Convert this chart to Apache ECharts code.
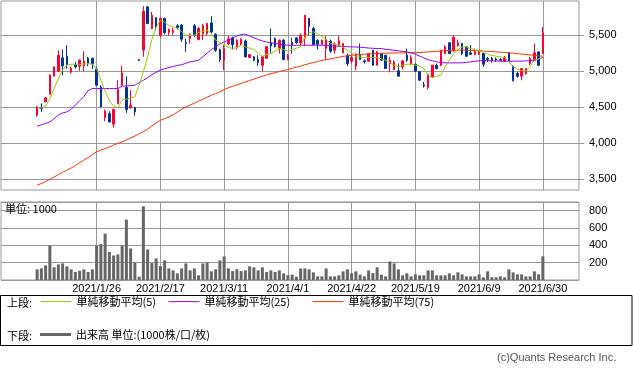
<!DOCTYPE html>
<html>
<head>
<meta charset="utf-8">
<script src="https://cdn.jsdelivr.net/npm/echarts@6.0.0/dist/echarts.min.js"></script>
<style>
html,body{margin:0;padding:0;background:#fff;}
#chart{width:633px;height:371px;}
</style>
</head>
<body>
<div id="chart"></div>
<script>
const dates = [
'2021/1/5','2021/1/6','2021/1/7','2021/1/8','2021/1/12','2021/1/13','2021/1/14','2021/1/15','2021/1/18','2021/1/19',
'2021/1/20','2021/1/21','2021/1/22','2021/1/25','2021/1/26','2021/1/27','2021/1/28','2021/1/29','2021/2/1','2021/2/2',
'2021/2/3','2021/2/4','2021/2/5','2021/2/8','2021/2/9','2021/2/10','2021/2/12','2021/2/15','2021/2/16','2021/2/17',
'2021/2/18','2021/2/19','2021/2/22','2021/2/24','2021/2/25','2021/2/26','2021/3/1','2021/3/2','2021/3/3','2021/3/4',
'2021/3/5','2021/3/8','2021/3/9','2021/3/10','2021/3/11','2021/3/12','2021/3/15','2021/3/16','2021/3/17','2021/3/18',
'2021/3/19','2021/3/22','2021/3/23','2021/3/24','2021/3/25','2021/3/26','2021/3/29','2021/3/30','2021/3/31','2021/4/1',
'2021/4/2','2021/4/5','2021/4/6','2021/4/7','2021/4/8','2021/4/9','2021/4/12','2021/4/13','2021/4/14','2021/4/15',
'2021/4/16','2021/4/19','2021/4/20','2021/4/21','2021/4/22','2021/4/23','2021/4/26','2021/4/27','2021/4/28','2021/4/30',
'2021/5/6','2021/5/7','2021/5/10','2021/5/11','2021/5/12','2021/5/13','2021/5/14','2021/5/17','2021/5/18','2021/5/19',
'2021/5/20','2021/5/21','2021/5/24','2021/5/25','2021/5/26','2021/5/27','2021/5/28','2021/5/31','2021/6/1','2021/6/2',
'2021/6/3','2021/6/4','2021/6/7','2021/6/8','2021/6/9','2021/6/10','2021/6/11','2021/6/14','2021/6/15','2021/6/16',
'2021/6/17','2021/6/18','2021/6/21','2021/6/22','2021/6/23','2021/6/24','2021/6/25','2021/6/28','2021/6/29','2021/6/30'
];
const tickLabels = ['2021/1/26','2021/2/17','2021/3/11','2021/4/1','2021/4/22','2021/5/19','2021/6/9','2021/6/30'];
const priceTicks = [3500,4000,4500,5000,5500];
const volumeTicks = [200,400,600,800];

const opens = [
4389,4495,4574,4680,4931,5000,5185,5208,4986,5093,
5069,5074,5181,5181,5028,4782,4352,4412,4264,4551,
4806,4773,4491,4495,5160,5292,5894,5593,5745,5500,
5732,5537,5537,5630,5639,5398,5454,5630,5440,5523,
5523,5671,5514,5301,5153,5380,5463,5330,5380,5420,
5190,5199,5160,5083,5180,5394,5450,5315,5431,5162,
5398,5463,5394,5460,5732,5593,5431,5375,5315,5417,
5292,5361,5255,5222,5139,5069,5222,5144,5139,5292,
5083,5245,5222,5106,5023,5005,5060,5222,5106,5097,
4991,4810,4773,4921,5083,5083,5245,5394,5292,5361,
5384,5338,5255,5236,5240,5245,5176,5180,5170,5160,
5144,5255,5069,4968,4931,4968,5106,5153,5268,5245
];
const closes = [
4505,4480,4630,4944,5060,5222,5074,5093,5042,5060,
5153,5139,5106,5102,4806,4505,4444,4296,4472,4745,
4977,4467,4528,4435,5150,5833,5662,5778,5616,5732,
5537,5579,5569,5606,5444,5384,5509,5500,5593,5639,
5662,5546,5292,5162,5315,5450,5370,5431,5440,5199,
5231,5153,5120,5199,5340,5350,5340,5431,5162,5222,
5370,5398,5500,5778,5625,5370,5375,5431,5440,5278,
5375,5421,5384,5106,5190,5236,5162,5130,5245,5083,
5268,5153,5037,5153,5130,4931,5143,5153,5190,5000,
4875,4795,4958,5083,5037,5292,5338,5245,5468,5394,
5245,5208,5236,5268,5262,5097,5162,5150,5155,5150,
5190,5144,4866,4931,5037,5037,5176,5255,5083,5532
];
const lows = [
4366,4435,4570,4675,4925,4995,4944,5037,4968,5037,
5005,5000,5069,5032,4792,4500,4305,4287,4218,4542,
4792,4421,4481,4380,5148,5199,5653,5583,5569,5468,
5509,5500,5509,5579,5407,5268,5384,5477,5431,5431,
5500,5523,5268,5130,5014,5360,5300,5300,5360,5190,
5180,5140,5074,5000,5170,5250,5330,5245,5150,5150,
5245,5380,5361,5361,5500,5360,5301,5370,5162,5255,
5245,5338,5250,5074,5106,5014,5155,5106,5130,5074,
5080,5140,5028,4986,5014,4925,5023,5130,5083,4991,
4866,4773,4745,4915,5023,5069,5240,5236,5268,5338,
5222,5199,5222,5222,5225,5060,5130,5120,5130,5135,
5130,5140,4860,4910,4875,4950,5083,5140,5070,5236
];
const highs = [
4514,4551,4643,4958,5069,5292,5301,5361,5060,5130,
5162,5278,5199,5185,5060,4806,4467,4444,4475,4875,
5074,4930,4736,4505,5162,5903,5903,5824,5748,5745,
5745,5593,5606,5653,5653,5454,5523,5653,5616,5653,
5671,5764,5523,5315,5361,5490,5480,5445,5460,5440,
5240,5210,5222,5210,5350,5593,5470,5440,5445,5240,
5463,5470,5523,5780,5735,5616,5440,5440,5486,5440,
5400,5486,5390,5245,5222,5245,5384,5162,5250,5295,
5280,5250,5225,5199,5153,5106,5153,5315,5222,5106,
5005,4852,4960,5090,5106,5295,5361,5407,5500,5440,
5394,5347,5361,5315,5290,5255,5199,5200,5190,5185,
5210,5265,5083,4991,5040,5040,5199,5384,5275,5616
];
const volumes = [
123,134,168,398,146,180,191,157,123,92,
107,123,92,123,398,414,536,322,283,295,
398,697,364,203,38,850,352,195,249,161,
226,134,111,77,134,191,111,134,54,191,
203,100,123,226,272,134,103,123,103,111,
157,146,111,146,92,111,92,111,77,54,
61,38,134,134,123,88,42,42,134,42,
42,54,100,123,77,100,61,42,111,80,
146,61,42,214,191,123,54,77,42,65,
54,54,111,111,54,54,54,77,54,88,
65,42,42,42,65,31,100,31,31,42,
31,123,88,65,65,42,42,100,65,272
];
const ma5 = [
4481,4490,4514,4620,4759,4900,5020,5083,5097,5097,
5095,5100,5102,5100,5037,4875,4720,4590,4514,4495,
4597,4610,4630,4643,4806,4991,5200,5440,5610,5708,
5680,5630,5610,5593,5550,5500,5495,5500,5537,5555,
5569,5523,5431,5400,5361,5330,5315,5330,5361,5338,
5320,5301,5245,5208,5230,5245,5280,5315,5300,5282,
5301,5320,5338,5477,5537,5546,5523,5480,5440,5384,
5375,5361,5330,5292,5255,5199,5195,5190,5190,5190,
5190,5170,5153,5120,5083,5060,5083,5097,5095,5083,
5074,5037,4944,4912,4930,4944,5060,5153,5245,5300,
5338,5338,5315,5300,5282,5260,5236,5220,5208,5200,
5190,5130,5060,5030,5005,5005,5060,5153,5170,5190
];
const ma25 = [
4236,4255,4275,4296,4340,4390,4420,4435,4470,4530,
4590,4650,4730,4760,4760,4759,4759,4759,4759,4759,
4792,4795,4800,4806,4840,4875,4910,4950,4985,5014,
5035,5050,5065,5080,5090,5110,5130,5140,5153,5200,
5250,5301,5340,5380,5407,5430,5460,5490,5509,5514,
5490,5465,5440,5420,5405,5394,5385,5375,5368,5361,
5360,5360,5360,5361,5361,5361,5361,5360,5355,5352,
5350,5347,5344,5340,5338,5336,5333,5328,5322,5318,
5315,5315,5305,5298,5290,5283,5275,5268,5255,5235,
5210,5185,5160,5145,5130,5120,5116,5115,5116,5116,
5116,5122,5130,5138,5144,5145,5145,5144,5142,5140,
5139,5139,5139,5140,5141,5143,5144,5150,5170,5190
];
const ma75 = [
3417,3440,3465,3500,3530,3565,3595,3625,3655,3690,
3730,3765,3800,3840,3880,3905,3925,3950,3975,3996,
4020,4045,4075,4100,4130,4160,4195,4240,4280,4319,
4340,4365,4395,4430,4470,4505,4530,4555,4585,4611,
4640,4665,4690,4713,4745,4770,4790,4810,4830,4850,
4870,4890,4910,4930,4950,4965,4980,4995,5010,5023,
5040,5055,5070,5090,5105,5120,5135,5150,5160,5170,
5182,5194,5205,5214,5222,5228,5232,5236,5240,5243,
5246,5248,5250,5252,5253,5254,5255,5256,5257,5258,
5260,5264,5268,5272,5276,5280,5284,5288,5291,5292,
5293,5292,5290,5287,5283,5280,5276,5272,5268,5264,
5260,5255,5250,5244,5238,5232,5226,5220,5214,5208
];

const PAD = 8;
const padL = Array.from({length: PAD}, (_, i) => 'padL' + i);
const padR = Array.from({length: PAD}, (_, i) => 'padR' + i);
const cats = padL.concat(dates, padR);
const blanks = Array(PAD).fill('-');
const padSeries = arr => blanks.concat(arr, blanks);
const candleData = blanks.map(() => ['-','-','-','-'])
  .concat(dates.map((d, i) => [opens[i], closes[i], lows[i], highs[i]]))
  .concat(blanks.map(() => ['-','-','-','-']));

const GRID = '#999999';
const C5 = '#99cc00', C25 = '#9900ff', C75 = '#ff3300', CVOL = '#666666';
const latin = 'Liberation Sans';
const cjk = 'Noto Sans CJK JP';
const vLines = tickLabels.map(d => ({ xAxis: d }));
const legendText = { fontSize: 11, fontFamily: cjk, color: '#000' };
const lineLegend = (name, color) => ({ name,
  itemStyle: { opacity: 0 }, lineStyle: { color, width: 1, opacity: 1 } });

const chart = echarts.init(document.getElementById('chart'), null, { renderer: 'canvas' });
chart.setOption({
  animation: false,
  backgroundColor: '#ffffff',
  grid: [
    { left: 1, top: 1, width: 578, height: 189, show: true, borderColor: GRID, borderWidth: 1, backgroundColor: '#fff' },
    { left: 1, top: 202, width: 578, height: 78, show: true, borderColor: GRID, borderWidth: 1, backgroundColor: '#fff' }
  ],
  xAxis: [
    { type: 'category', gridIndex: 0, data: cats, boundaryGap: true,
      axisLine: { show: false }, axisTick: { show: false }, axisLabel: { show: false }, splitLine: { show: false } },
    { type: 'category', gridIndex: 1, data: cats, boundaryGap: true,
      axisLine: { show: false }, axisTick: { show: false }, splitLine: { show: false },
      axisLabel: { interval: (idx, val) => tickLabels.indexOf(val) >= 0, margin: 3,
        fontSize: 11, fontFamily: latin, color: '#000' } }
  ],
  yAxis: [
    { type: 'value', gridIndex: 0, position: 'right', min: 3350, max: 5975, splitNumber: 5,
      axisLine: { show: false },
      axisTick: { show: true, length: 5, lineStyle: { color: GRID }, customValues: priceTicks },
      axisLabel: { customValues: priceTicks, margin: 10, fontSize: 11, fontFamily: latin, color: '#000',
        formatter: v => v.toLocaleString('en-US') },
      splitLine: { show: true, lineStyle: { color: GRID, width: 1 } } },
    { type: 'value', gridIndex: 1, position: 'right', min: 0, max: 900, interval: 200,
      axisLine: { show: false }, axisTick: { show: false },
      axisLabel: { customValues: volumeTicks, margin: 10, fontSize: 11, fontFamily: latin, color: '#000' },
      splitLine: { show: true, lineStyle: { color: GRID, width: 1 } } }
  ],
  legend: [
    { data: [lineLegend('単純移動平均(5)', C5)], left: 40, top: 296, padding: 0, itemWidth: 31, itemHeight: 14, selectedMode: false, textStyle: legendText },
    { data: [lineLegend('単純移動平均(25)', C25)], left: 168, top: 296, padding: 0, itemWidth: 31, itemHeight: 14, selectedMode: false, textStyle: legendText },
    { data: [lineLegend('単純移動平均(75)', C75)], left: 312, top: 296, padding: 0, itemWidth: 31, itemHeight: 14, selectedMode: false, textStyle: legendText },
    { data: [{ name: '出来高 単位:(1000株/口/枚)', icon: 'rect', itemStyle: { color: CVOL } }], left: 40, top: 329, padding: 0, itemWidth: 31, itemHeight: 3, selectedMode: false, textStyle: legendText }
  ],
  graphic: [
    { type: 'rect', silent: true, shape: { x: 0.5, y: 295.5, width: 631.5, height: 50 },
      style: { fill: 'none', stroke: '#000', lineWidth: 1 } },
    { type: 'text', silent: true, x: 7, y: 303, style: { text: '上段:', font: '11px "Noto Sans CJK JP"', fill: '#000', verticalAlign: 'middle' } },
    { type: 'text', silent: true, x: 7, y: 336, style: { text: '下段:', font: '11px "Noto Sans CJK JP"', fill: '#000', verticalAlign: 'middle' } },
    { type: 'text', silent: true, x: 5, y: 209, z: 10, style: { text: '単位: 1000', font: '11px "Noto Sans CJK JP"', fill: '#000', verticalAlign: 'middle' } },
    { type: 'text', silent: true, x: 497, y: 358, style: { text: '(c)Quants Research Inc.', font: '11px "Liberation Sans"', fill: '#555', verticalAlign: 'middle' } }
  ],
  series: [
    { type: 'line', xAxisIndex: 0, yAxisIndex: 0, data: [], silent: true,
      markLine: { symbol: 'none', silent: true, z: 1, animation: false, label: { show: false },
        lineStyle: { color: GRID, width: 1, type: 'solid' }, emphasis: { disabled: true }, data: vLines } },
    { type: 'line', xAxisIndex: 1, yAxisIndex: 1, data: [], silent: true,
      markLine: { symbol: 'none', silent: true, z: 1, animation: false, label: { show: false },
        lineStyle: { color: GRID, width: 1, type: 'solid' }, emphasis: { disabled: true }, data: vLines } },
    { name: '単純移動平均(75)', type: 'line', xAxisIndex: 0, yAxisIndex: 0, data: padSeries(ma75),
      symbol: 'none', showSymbol: false, z: 3, color: C75, lineStyle: { color: C75, width: 1 }, itemStyle: { color: C75 } },
    { name: '単純移動平均(25)', type: 'line', xAxisIndex: 0, yAxisIndex: 0, data: padSeries(ma25),
      symbol: 'none', showSymbol: false, z: 3, color: C25, lineStyle: { color: C25, width: 1 }, itemStyle: { color: C25 } },
    { name: 'candles', type: 'candlestick', xAxisIndex: 0, yAxisIndex: 0, data: candleData, barWidth: 2, z: 2,
      itemStyle: { color: '#ff0033', color0: '#003399', borderColor: '#ff0033', borderColor0: '#003399', borderWidth: 1 } },
    { name: '単純移動平均(5)', type: 'line', xAxisIndex: 0, yAxisIndex: 0, data: padSeries(ma5),
      symbol: 'none', showSymbol: false, z: 4, color: C5, lineStyle: { color: C5, width: 1 }, itemStyle: { color: C5 } },
    { name: '出来高 単位:(1000株/口/枚)', type: 'bar', xAxisIndex: 1, yAxisIndex: 1, data: padSeries(volumes),
      barWidth: 3, color: CVOL, itemStyle: { color: CVOL } }
  ]
});
</script>
</body>
</html>
